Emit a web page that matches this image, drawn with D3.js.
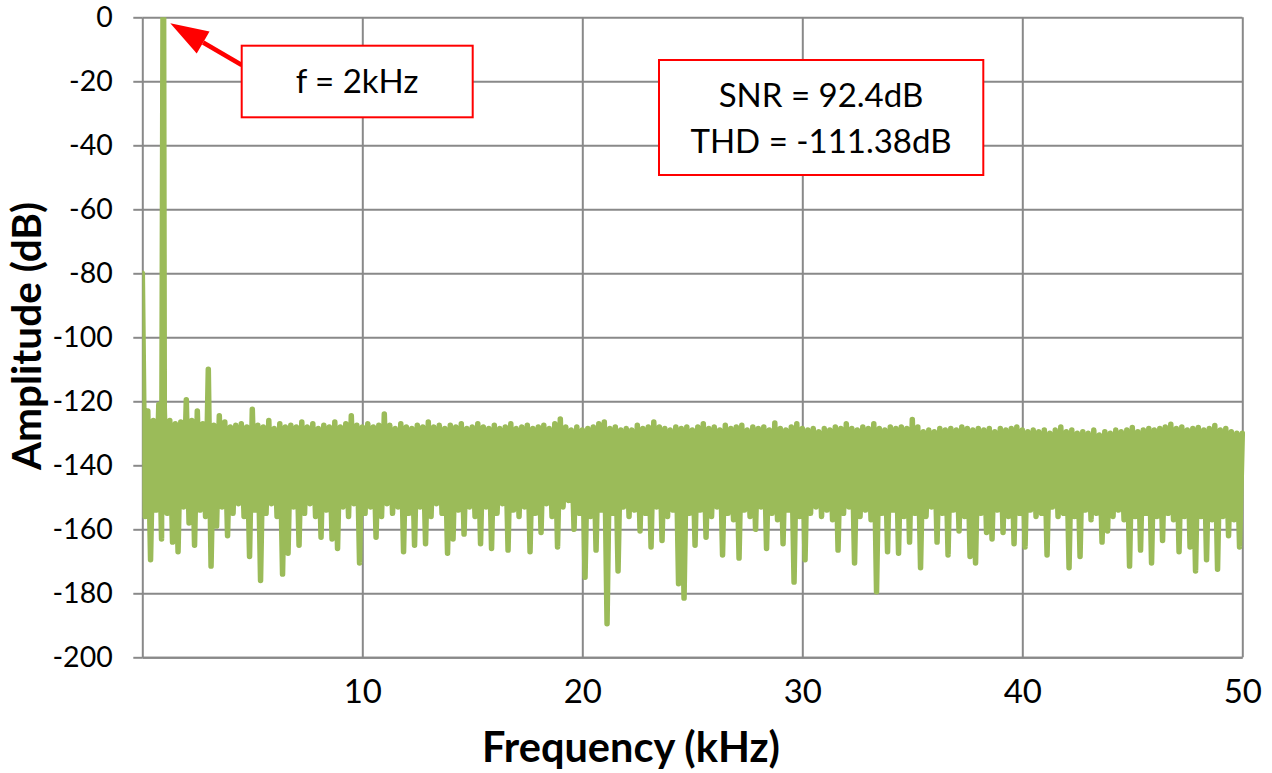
<!DOCTYPE html>
<html>
<head>
<meta charset="UTF-8">
<title>FFT spectrum</title>
<script src="https://cdn.jsdelivr.net/npm/d3@7"></script>
<style>
    body { margin: 0; background: #fff; }
    svg text { font-family: Lato, "Open Sans", sans-serif; fill: #000; }
    .grid line, .grid path { stroke: #898989; stroke-width: 2px; }
    .ticks line { stroke: #898989; stroke-width: 2px; }
    .ticks path { display: none; }
</style>
</head>
<body>
<svg id="chart"></svg>
<script>
    // axis ticks
    var yTicks = [0, -20, -40, -60, -80, -100, -120, -140, -160, -180, -200];
    var xTicks = [10, 20, 30, 40, 50];

    // tones: DC leak and the fundamental (kHz, dB)
    var toneFreq = [0, 0.94, 0.97];
    var toneDb = [-80, 0, 0];

    // noise floor, one local max and one local min per 0.25 kHz
    var binStep = 0.25;
    // local maxima at 0.25, 0.50 ... 50.0 kHz
    var peakDb = [
        -123, -126, -121, -122.5, -126, -127, -126.5, -119.5, -126, -123, -127, -110, -127.5, -124.5, -126.5, -128, -127.5, -127, -128, -122.5,
        -127.5, -128, -126, -128.5, -127, -128, -127.5, -128, -126.5, -128, -127, -128.5, -127.5, -128, -126.5, -128, -127, -124.5, -127.5, -128,
        -127, -128, -127.5, -124, -127.5, -128.5, -127, -128, -128.5, -127.5, -128, -126.5, -128, -127.5, -128.5, -127.5, -128, -127, -128.5, -128,
        -127, -128, -128.5, -127.5, -128.5, -128, -127, -128.5, -128, -127.5, -128.5, -128, -127.5, -128.5, -127, -125.5, -128, -129, -128, -129,
        -128.5, -128, -127, -126.5, -128.5, -128, -129, -128.5, -129, -127.5, -128.5, -128, -126.5, -128, -128.5, -129, -128, -128.5, -128, -129,
        -128, -127, -128.5, -128, -129, -127.5, -128.5, -128, -127.5, -129, -128, -128.5, -128, -129, -126.8, -128.5, -129, -128, -127, -128.5,
        -129, -128.5, -129.5, -128.5, -129, -128, -128.5, -127, -128.5, -129, -128, -128.5, -127, -128.5, -129, -128, -128.5, -128, -128.5, -125.7,
        -128, -129.5, -129, -129.5, -128.5, -129, -128.5, -129, -128, -128.5, -129, -128.5, -129, -128.5, -129.5, -128.5, -129, -128.5, -128, -129,
        -129.5, -129, -129.5, -129, -130, -129, -128, -129.5, -129, -130, -129.5, -130, -129, -130.5, -129.5, -130, -129, -129.5, -129, -128.2,
        -129.5, -129, -128.5, -129, -128.5, -128, -127.2, -128.5, -128, -129, -128.5, -128.2, -129, -128.5, -127.6, -129, -128.5, -129.5, -130, -130
    ];
    // local minima at 0.125, 0.375 ... 49.875 kHz
    var troughDb = [
        -156, -169.5, -154, -163, -155, -164, -167, -153, -158, -165, -154, -156, -171.5, -159, -153, -162, -155, -152, -156, -168.5,
        -154, -176, -155, -152, -156, -174, -167.5, -153, -165, -155, -152, -156, -162.5, -154, -163, -166, -153, -156, -152, -170.5,
        -155, -153, -162.5, -156, -152, -155, -153, -167, -155, -165, -153, -164.5, -156, -152, -155, -167.5, -163, -154, -161.5, -153,
        -156, -164.5, -153, -166, -155, -152, -166.5, -154, -156, -153, -167, -155, -161, -152, -156, -165.5, -153, -151, -160, -155,
        -175, -156, -166.5, -154, -189.5, -155, -173, -153, -156, -154, -160.5, -155, -165.5, -153, -163.5, -156, -154, -177, -181.5, -155,
        -165, -154, -162.5, -156, -153, -168, -155, -157, -169, -154, -156, -160, -153, -166, -155, -157, -164.5, -154, -176.5, -156,
        -169.5, -155, -153, -156, -154, -157, -166.5, -155, -153, -170.5, -156, -154, -157, -179.5, -155, -167, -154, -167.5, -156, -164,
        -155, -172, -156, -153, -164, -155, -168, -154, -160.5, -156, -168.5, -170.5, -155, -161, -163, -154, -161, -156, -164.5, -155,
        -165.5, -154, -156, -155, -168, -153, -156, -155, -172, -156, -168.5, -154, -157, -155, -164, -160.5, -156, -154, -157, -171.5,
        -156, -166.5, -155, -170.5, -156, -163.5, -155, -157, -167, -156, -165.5, -173, -156, -169.5, -157, -172.5, -156, -162, -157, -165.5
    ];

    var w = 1272, h = 773,
        plotL = 142.3, plotT = 17.3, plotR = 1242.3, plotB = 657.3;

    var series = [];
    troughDb.forEach(function (v, k) { series.push({f: binStep * k + binStep / 2, db: v}); });
    peakDb.forEach(function (v, k) { series.push({f: binStep * (k + 1), db: v}); });
    toneFreq.forEach(function (f, i) { series.push({f: f, db: toneDb[i]}); });
    series.sort(function (a, b) { return a.f - b.f; });

    var svg = d3.select("svg#chart").attr("width", w).attr("height", h);

    var x = d3.scaleLinear().domain([0, 50]).range([plotL, plotR]);
    var y = d3.scaleLinear().domain([-200, 0]).range([plotB, plotT]);

    // plain hyphen for negatives, like the original
    var plain = function (d) { return String(d); };

    // grid
    svg.append("g").attr("class", "grid")
        .attr("transform", "translate(" + plotL + ",0)")
        .call(d3.axisLeft(y).tickValues(yTicks).tickSize(-(plotR - plotL)).tickSizeOuter(0).tickFormat(""));
    svg.append("g").attr("class", "grid")
        .attr("transform", "translate(0," + plotB + ")")
        .call(d3.axisBottom(x).tickValues(xTicks).tickSize(-(plotB - plotT)).tickSizeOuter(0).tickFormat(""));

    // y labels with small outside ticks
    var yAxis = svg.append("g").attr("class", "ticks")
        .attr("transform", "translate(" + plotL + ",0)")
        .call(d3.axisLeft(y).tickValues(yTicks).tickFormat(plain).tickSize(9).tickPadding(20.6).tickSizeOuter(0));
    yAxis.selectAll("text").style("font-size", "28.5px");

    var xAxis = svg.append("g").attr("class", "ticks")
        .attr("transform", "translate(0," + plotB + ")")
        .call(d3.axisBottom(x).tickValues(xTicks).tickFormat(plain).tickSize(0).tickSizeOuter(0));
    xAxis.selectAll("text").attr("y", 45.7).attr("dy", null).style("font-size", "33px");

    // spectrum
    svg.append("clipPath").attr("id", "plotclip")
        .append("rect").attr("x", plotL).attr("y", plotT)
        .attr("width", plotR - plotL + 6).attr("height", plotB - plotT);

    var line = d3.line().x(function (d) { return x(d.f); }).y(function (d) { return y(d.db); });
    svg.append("path").datum(series)
        .attr("clip-path", "url(#plotclip)")
        .attr("d", line)
        .attr("fill", "none")
        .attr("stroke", "#9bbb59")
        .attr("stroke-width", 5.5)
        .attr("stroke-linejoin", "round")
        .attr("stroke-linecap", "round");

    // axis titles
    svg.append("text").attr("x", 631).attr("y", 761.7)
        .attr("text-anchor", "middle")
        .style("font-size", "41.5px").style("font-weight", "bold")
        .text("Frequency (kHz)");
    svg.append("text").attr("transform", "translate(41,336) rotate(-90)")
        .attr("text-anchor", "middle")
        .style("font-size", "40.5px").style("font-weight", "bold")
        .text("Amplitude (dB)");

    // annotation: arrow to the fundamental
    var tipX = x(0.955) + 7, tipY = y(0) + 6,
        tailX = 241.7, tailY = 65;
    var dx = tailX - tipX, dy = tailY - tipY, len = Math.sqrt(dx * dx + dy * dy);
    var ux = dx / len, uy = dy / len, headLen = 38, headHalf = 12.7;
    var bx = tipX + ux * headLen, by = tipY + uy * headLen;
    svg.append("line")
        .attr("x1", bx).attr("y1", by).attr("x2", tailX).attr("y2", tailY)
        .attr("stroke", "#ff0000").attr("stroke-width", 4.5);
    svg.append("polygon")
        .attr("points", [[tipX, tipY], [bx - uy * headHalf, by + ux * headHalf], [bx + uy * headHalf, by - ux * headHalf]].join(" "))
        .attr("fill", "#ff0000");

    svg.append("rect").attr("x", 241.7).attr("y", 45.7).attr("width", 231).attr("height", 71.6)
        .attr("fill", "#fff").attr("stroke", "#ff0000").attr("stroke-width", 2);
    svg.append("text").attr("x", 357).attr("y", 93.3).attr("text-anchor", "middle")
        .style("font-size", "33px").text("f = 2kHz");

    svg.append("rect").attr("x", 659).attr("y", 60).attr("width", 324.3).attr("height", 115)
        .attr("fill", "#fff").attr("stroke", "#ff0000").attr("stroke-width", 2);
    svg.append("text").attr("x", 821).attr("y", 106.7).attr("text-anchor", "middle")
        .style("font-size", "33px").text("SNR = 92.4dB");
    svg.append("text").attr("x", 821).attr("y", 152.7).attr("text-anchor", "middle")
        .style("font-size", "33px").text("THD = -111.38dB");
</script>
</body>
</html>
